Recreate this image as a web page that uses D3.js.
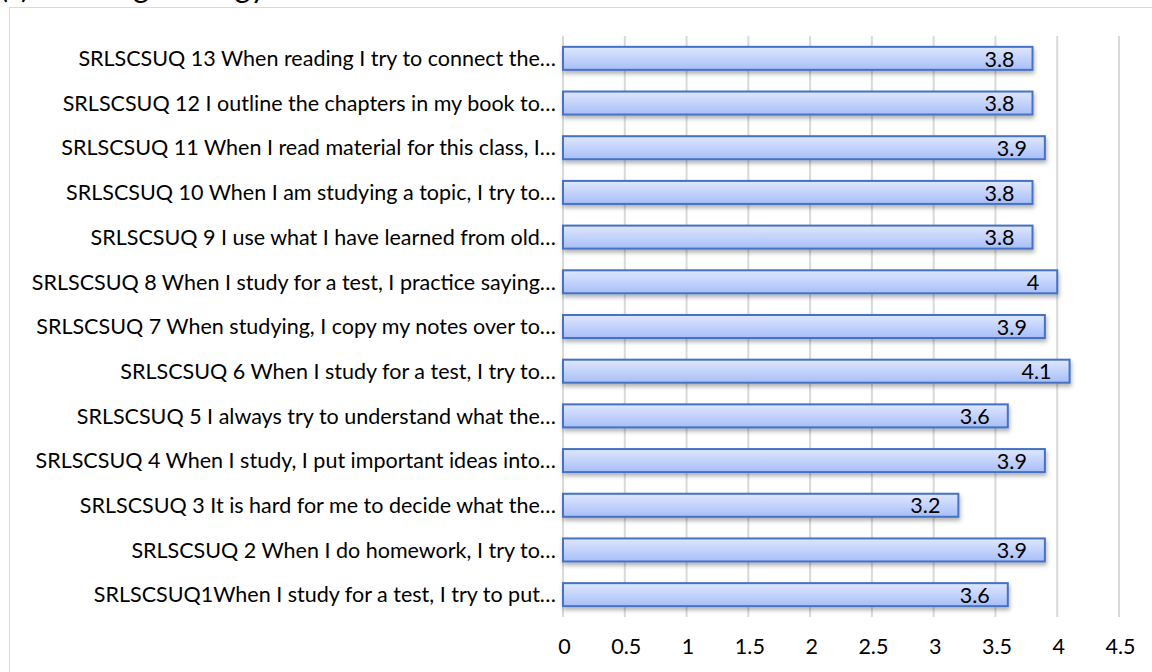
<!DOCTYPE html>
<html>
<head>
<meta charset="utf-8">
<script src="https://cdn.jsdelivr.net/npm/d3@7"></script>
<style>
  body { margin: 0; background: #fff; }
  svg { display: block; font-family: Lato, "Open Sans", sans-serif; }
</style>
</head>
<body>
<div id="chart"></div>
<script>
// data
var items = [
    "SRLSCSUQ1When I study for a test, I try to put\u2026",
    "SRLSCSUQ 2 When I do homework, I try to\u2026",
    "SRLSCSUQ 3 It is hard for me to decide what the\u2026",
    "SRLSCSUQ 4 When I study, I put important ideas into\u2026",
    "SRLSCSUQ 5 I always try to understand what the\u2026",
    "SRLSCSUQ 6 When I study for a test, I try to\u2026",
    "SRLSCSUQ 7 When studying, I copy my notes over to\u2026",
    "SRLSCSUQ 8 When I study for a test, I practice saying\u2026",
    "SRLSCSUQ 9 I use what I have learned from old\u2026",
    "SRLSCSUQ 10 When I am studying a topic, I try to\u2026",
    "SRLSCSUQ 11 When I read material for this class, I\u2026",
    "SRLSCSUQ 12 I outline the chapters in my book to\u2026",
    "SRLSCSUQ 13 When reading I try to connect the\u2026"
];
var means = [3.6, 3.9, 3.2, 3.9, 3.6, 4.1, 3.9, 4, 3.8, 3.8, 3.9, 3.8, 3.8];
var xTicks = [0, 0.5, 1, 1.5, 2, 2.5, 3, 3.5, 4, 4.5];
var title = "(c) Learning Strategy";

var width = 1152, height = 672;
var plotLeft = 563, plotRight = 1119, plotTop = 36, plotBottom = 617;
var fontSize = "21.5px";

var svg = d3.select("#chart").append("svg")
    .attr("width", width)
    .attr("height", height);

var defs = svg.append("defs");
var grad = defs.append("linearGradient")
    .attr("id", "barFill")
    .attr("x1", 0).attr("y1", 0).attr("x2", 0).attr("y2", 1);
grad.append("stop").attr("offset", "0%").attr("stop-color", "#dfe7fd");
grad.append("stop").attr("offset", "100%").attr("stop-color", "#a7bef8");

var shadow = defs.append("filter")
    .attr("id", "shadow")
    .attr("x", "-5%").attr("y", "-30%")
    .attr("width", "110%").attr("height", "180%");
shadow.append("feDropShadow")
    .attr("dx", 1).attr("dy", 3)
    .attr("stdDeviation", 2)
    .attr("flood-color", "#000")
    .attr("flood-opacity", 0.3);

// title, mostly cut off by the top edge
svg.append("text")
    .attr("x", 0)
    .attr("y", -2)
    .style("font-size", "30px")
    .style("fill", "#000")
    .text(title);

// chart area border
svg.append("rect")
    .attr("x", 9.5).attr("y", 7.5)
    .attr("width", 1160).attr("height", 700)
    .style("fill", "none")
    .style("stroke", "#d9d9d9")
    .style("stroke-width", 1);

var x_scale = d3.scaleLinear().domain([0, 4.5]).range([plotLeft, plotRight]);
var y_scale = d3.scaleBand()
    .domain(items.slice().reverse())
    .range([plotTop, plotBottom])
    .paddingInner(0.485)
    .paddingOuter(0.2425);

// vertical gridlines
svg.append("g")
    .selectAll("line")
    .data(xTicks)
    .enter()
    .append("line")
    .attr("x1", function (d) { return x_scale(d); })
    .attr("x2", function (d) { return x_scale(d); })
    .attr("y1", plotTop)
    .attr("y2", plotBottom)
    .style("stroke", "#d9d9d9")
    .style("stroke-width", 2);

// x axis labels
var x_axis = d3.axisBottom(x_scale).tickValues(xTicks).tickSize(0).tickPadding(0)
    .tickFormat(function (d) { return String(d); });
var gx = svg.append("g")
    .attr("transform", "translate(1," + (plotBottom + 22) + ")")
    .call(x_axis);
gx.select(".domain").remove();
gx.selectAll("text")
    .style("font-family", "Lato, 'Open Sans', sans-serif")
    .style("font-size", fontSize)
    .style("fill", "#000");

// category labels
var y_axis = d3.axisLeft(y_scale).tickSize(0).tickPadding(7);
var gy = svg.append("g")
    .attr("transform", "translate(" + plotLeft + ",0)")
    .call(y_axis);
gy.select(".domain").remove();
gy.selectAll("text")
    .attr("dy", "0.36em")
    .style("font-family", "Lato, 'Open Sans', sans-serif")
    .style("font-size", fontSize)
    .style("fill", "#000");

// bars
var rows = items.map(function (d, i) { return { item: d, mean: means[i] }; });
svg.append("g")
    .selectAll("rect")
    .data(rows)
    .enter()
    .append("rect")
    .attr("x", x_scale(0))
    .attr("y", function (d) { return y_scale(d.item); })
    .attr("width", function (d) { return x_scale(d.mean) - x_scale(0); })
    .attr("height", y_scale.bandwidth())
    .style("fill", "url(#barFill)")
    .style("stroke", "#4472c4")
    .style("stroke-width", 2)
    .attr("filter", "url(#shadow)");

// value labels
svg.append("g")
    .selectAll("text")
    .data(rows)
    .enter()
    .append("text")
    .attr("x", function (d) { return x_scale(d.mean) - 18; })
    .attr("y", function (d) { return y_scale(d.item) + y_scale.bandwidth() / 2; })
    .attr("dy", "0.38em")
    .attr("text-anchor", "end")
    .style("font-size", fontSize)
    .style("fill", "#000")
    .text(function (d) { return d.mean; });
</script>
</body>
</html>
